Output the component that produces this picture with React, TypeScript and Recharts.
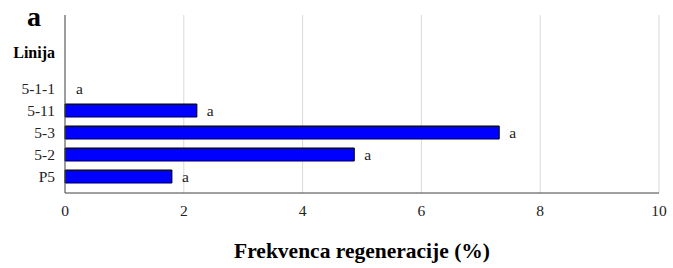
import React from 'react';
import { BarChart, Bar, XAxis, YAxis, CartesianGrid, LabelList, Rectangle } from 'recharts';

// top to bottom, as in the figure
const lines = ['5-1-1', '5-11', '5-3', '5-2', 'P5'];
const frequency = [0, 2.22, 7.31, 4.87, 1.8];
const letters = ['a', 'a', 'a', 'a', 'a'];
const xTicks = [0, 2, 4, 6, 8, 10];

const data = lines.map((line, i) => ({ line, value: frequency[i], letter: letters[i] }));

const serif = 'Liberation Serif, Tinos, Times New Roman, Times, DejaVu Serif, serif';

// zero bars get no rectangle, only their letter
const BarShape = (props: any) => (props.value > 0 ? <Rectangle {...props} /> : <g />);

export default function App() {
  return (
    <div style={{ position: 'absolute', left: 0, top: 0, width: 673, height: 268, background: '#fff', fontFamily: serif }}>
      <BarChart
        width={673}
        height={268}
        data={data}
        layout="vertical"
        margin={{ top: 15, right: 14, bottom: 45, left: 0 }}
        style={{ fontFamily: serif }}
      >
        <CartesianGrid horizontal={false} stroke="#d9d9d9" />
        <XAxis
          type="number"
          domain={[0, 10]}
          ticks={xTicks}
          interval={0}
          tickLine={false}
          tickSize={6}
          tickMargin={6}
          height={30}
          axisLine={{ stroke: '#404040' }}
          tick={{ fontSize: 15.5, fill: '#222', fontFamily: serif }}
        />
        <YAxis
          type="category"
          dataKey="line"
          width={65}
          interval={0}
          tickLine={false}
          tickSize={8}
          tickMargin={2}
          padding={{ top: 62, bottom: 6 }}
          axisLine={{ stroke: '#505050' }}
          tick={{ fontSize: 15.5, fill: '#222', fontFamily: serif }}
        />
        <Bar
          dataKey="value"
          fill="#0000ff"
          stroke="#000"
          strokeWidth={1}
          barSize={13}
          minPointSize={1}
          shape={BarShape}
          isAnimationActive={false}
        >
          <LabelList dataKey="letter" position="right" offset={10} style={{ fontSize: 15.5, fill: '#222', fontFamily: serif }} />
        </Bar>
      </BarChart>
      <div style={{ position: 'absolute', left: 27, top: 3, fontSize: 28, lineHeight: '28px', fontWeight: 'bold' }}>a</div>
      <div style={{ position: 'absolute', right: 673 - 55, top: 45, fontSize: 16, lineHeight: '16px', fontWeight: 'bold' }}>Linija</div>
      <div style={{ position: 'absolute', left: 65, width: 594, top: 241, textAlign: 'center', fontSize: 21.5, lineHeight: '21px', fontWeight: 'bold' }}>
        Frekvenca regeneracije (%)
      </div>
    </div>
  );
}
